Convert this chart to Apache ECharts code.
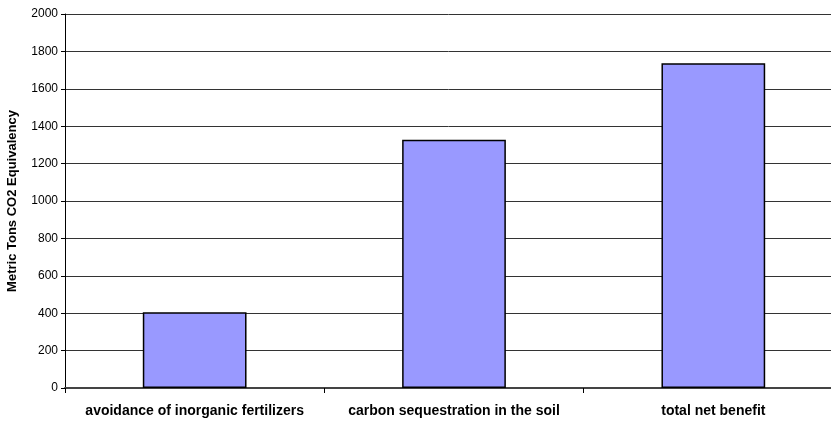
<!DOCTYPE html>
<html><head><meta charset="utf-8">
<script src="https://cdn.jsdelivr.net/npm/echarts@6/dist/echarts.min.js"></script>
<style>html,body{margin:0;padding:0;background:#fff}#c{width:831px;height:422px}</style>
</head><body><div id="c"></div>
<script>
var categories = ["avoidance of inorganic fertilizers", "carbon sequestration in the soil", "total net benefit"];
var values = [405, 1327, 1737];
var yTicks = [0, 200, 400, 600, 800, 1000, 1200, 1400, 1600, 1800, 2000];
var chart = echarts.init(document.getElementById('c'));
chart.setOption({
  animation: false,
  grid: {left: 65, right: -12, top: 14, bottom: 34, outerBoundsMode: 'none', containLabel: false},
  xAxis: {
    type: 'category', data: categories,
    axisLine: {lineStyle: {color: '#444', width: 2}},
    axisTick: {show: true, interval: 0, alignWithLabel: false, length: 5, lineStyle: {color: '#000', width: 1}},
    axisLabel: {interval: 0, hideOverlap: false, fontFamily: 'Liberation Sans, Arial', fontWeight: 'bold', fontSize: 14, color: '#000', margin: 16}
  },
  yAxis: {
    type: 'value', min: yTicks[0], max: yTicks[yTicks.length - 1], interval: 200,
    name: 'Metric Tons CO2 Equivalency', nameLocation: 'middle', nameGap: 46,
    nameTextStyle: {fontFamily: 'Liberation Sans, Arial', fontWeight: 'bold', fontSize: 13, color: '#000'},
    axisLine: {show: true, lineStyle: {color: '#000'}},
    axisTick: {show: true, length: 4, lineStyle: {color: '#000'}},
    axisLabel: {fontFamily: 'Liberation Sans, Arial', fontSize: 12, color: '#000', margin: 7,
      formatter: function (v) { return String(v); }},
    splitLine: {lineStyle: {color: '#333', width: 1}}
  },
  series: [{
    type: 'bar', data: values, barWidth: '40%',
    itemStyle: {color: '#9999FF', borderColor: '#000', borderWidth: 1.5}
  }]
});
</script></body></html>
